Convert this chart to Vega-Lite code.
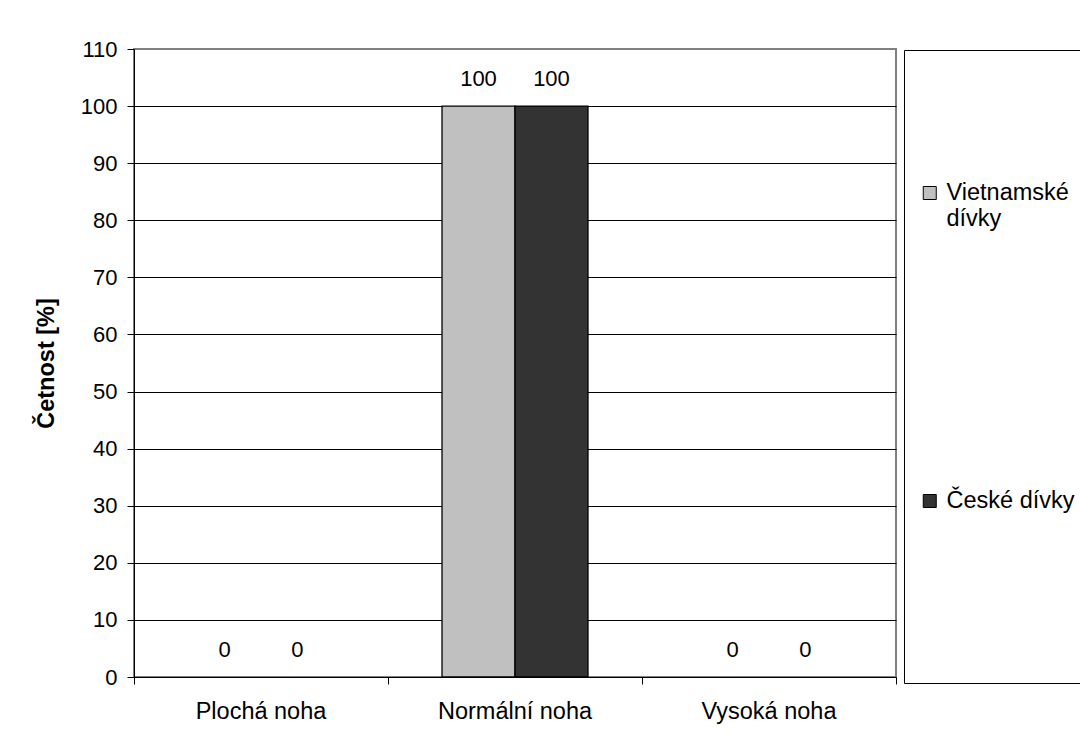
{
  "$schema": "https://vega.github.io/schema/vega-lite/v6.json",
  "autosize": {"type": "none"},
  "width": 762,
  "height": 628,
  "padding": {"left": 134, "top": 49, "right": 184, "bottom": 68},
  "background": "white",
  "config": {
    "font": "Liberation Sans",
    "view": {"stroke": "#808080", "strokeWidth": 2}
  },
  "data": {
    "values": [
      {"typ": "Plochá noha", "skupina": "Vietnamské dívky", "cetnost": 0},
      {"typ": "Plochá noha", "skupina": "České dívky", "cetnost": 0},
      {"typ": "Normální noha", "skupina": "Vietnamské dívky", "cetnost": 100},
      {"typ": "Normální noha", "skupina": "České dívky", "cetnost": 100},
      {"typ": "Vysoká noha", "skupina": "Vietnamské dívky", "cetnost": 0},
      {"typ": "Vysoká noha", "skupina": "České dívky", "cetnost": 0}
    ]
  },
  "encoding": {
    "x": {
      "field": "typ",
      "type": "nominal",
      "sort": ["Plochá noha", "Normální noha", "Vysoká noha"],
      "scale": {"paddingInner": 0, "paddingOuter": 0},
      "axis": {
        "title": null,
        "labelAngle": 0,
        "labelFontSize": 23.5,
        "labelColor": "#000",
        "labelPadding": 15,
        "tickSize": 7,
        "tickColor": "#000",
        "bandPosition": 1,
        "tickExtra": true,
        "domainColor": "#000",
        "grid": false
      }
    },
    "xOffset": {
      "field": "skupina",
      "type": "nominal",
      "sort": ["Vietnamské dívky", "České dívky"],
      "scale": {"paddingInner": 0, "paddingOuter": 0.74}
    },
    "y": {
      "field": "cetnost",
      "type": "quantitative",
      "scale": {"domain": [0, 110], "nice": false},
      "axis": {
        "title": "Četnost [%]",
        "titleFontSize": 23.5,
        "titleFontWeight": "bold",
        "titleColor": "#000",
        "titlePadding": 22,
        "values": [0, 10, 20, 30, 40, 50, 60, 70, 80, 90, 100, 110],
        "labelFontSize": 22,
        "labelColor": "#000",
        "labelPadding": 10,
        "tickSize": 7,
        "tickColor": "#000",
        "domainColor": "#000",
        "gridColor": {"condition": {"test": "datum.value == 110", "value": "#808080"}, "value": "#000"},
        "gridWidth": 1
      }
    }
  },
  "layer": [
    {
      "transform": [{"filter": "datum.cetnost > 0"}],
      "mark": {"type": "bar", "stroke": "#000", "strokeWidth": 1.3},
      "encoding": {
        "color": {
          "field": "skupina",
          "type": "nominal",
          "sort": ["Vietnamské dívky", "České dívky"],
          "scale": {"domain": ["Vietnamské dívky", "České dívky"], "range": ["#c0c0c0", "#333333"]},
          "legend": {
            "title": " ",
            "titleOrient": "bottom",
            "titleFontSize": 22,
            "titlePadding": 18,
            "orient": "none",
            "legendX": 770,
            "legendY": 1,
            "padding": 17,
            "strokeColor": "#000",
            "fillColor": "#fff",
            "symbolType": "square",
            "symbolSize": 169,
            "symbolStrokeColor": "#000",
            "symbolStrokeWidth": 1,
            "symbolOffset": -3,
            "labelOffset": 5,
            "labelFontSize": 23.5,
            "labelColor": "#000",
            "labelLimit": 200,
            "labelExpr": "datum.label == 'Vietnamské dívky' ? ['Vietnamské', 'dívky'] : datum.label",
            "clipHeight": 252,
            "rowPadding": 56
          }
        }
      }
    },
    {
      "mark": {"type": "text", "baseline": "middle", "dy": -27, "fontSize": 22, "color": "#000"},
      "encoding": {
        "text": {"field": "cetnost", "type": "quantitative"}
      }
    }
  ]
}
